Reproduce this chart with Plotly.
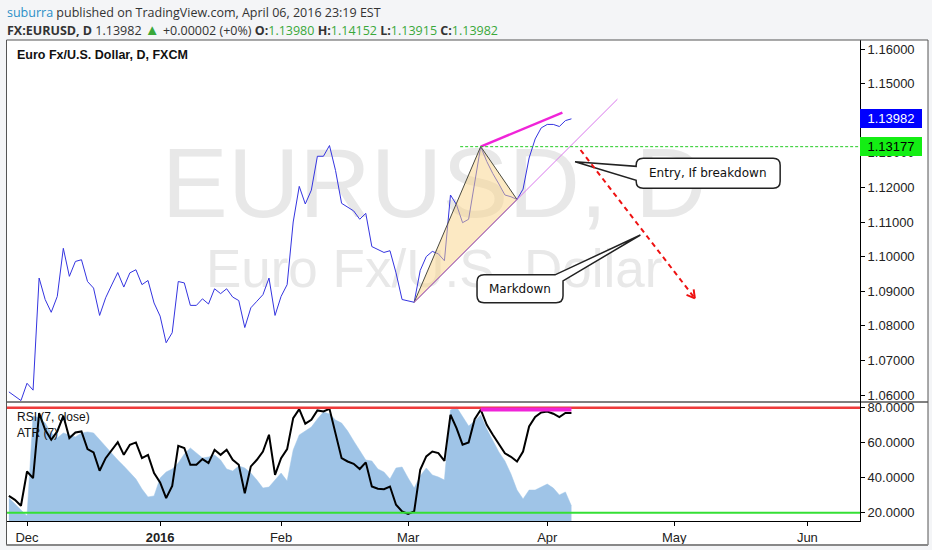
import math
import pandas as pd
import plotly.graph_objects as go

# ---------------- data ----------------
holidays = ["2015-12-25", "2016-01-01"]
dates = [d for d in pd.bdate_range("2015-11-26", "2016-04-07")
         if d.strftime("%Y-%m-%d") not in holidays]
axis_days = [d for d in pd.bdate_range("2015-11-26", "2016-06-30")
             if d.strftime("%Y-%m-%d") not in holidays]

close = [1.0609, 1.0596, 1.0584, 1.0634, 1.0614,
         1.0938, 1.0876, 1.0839, 1.0885, 1.1024,
         1.0943, 1.0986, 1.0991, 1.0928, 1.0909,
         1.0830, 1.0881, 1.0918, 1.0954, 1.0912,
         1.0953, 1.0962, 1.0919, 1.0931, 1.0866,
         1.0828, 1.0751, 1.0780, 1.0928, 1.0924,
         1.0859, 1.0859, 1.0878, 1.0863, 1.0907,
         1.0893, 1.0907, 1.0883, 1.0873, 1.0795,
         1.0852, 1.0871, 1.0890, 1.0938, 1.0830,
         1.0885, 1.0919, 1.1100, 1.1203, 1.1152,
         1.1192, 1.1290, 1.1290, 1.1321, 1.1249,
         1.1154, 1.1142, 1.1132, 1.1108, 1.1125,
         1.1029, 1.1020, 1.1012, 1.1017, 1.0953,
         1.0876, 1.0871, 1.0868, 1.0960, 1.1000,
         1.1015, 1.1008, 1.0988, 1.1178, 1.1150,
         1.1098, 1.1108, 1.1211, 1.1318, 1.1275,
         1.1240, 1.1210, 1.1178, 1.1173, 1.1165,
         1.1195, 1.1285, 1.1340, 1.1372, 1.1382,
         1.1382, 1.1376, 1.1393, 1.13982]

rsi = [29.7, 27.4, 24.0, 43.6, 39.8,
       77.0, 67.4, 61.7, 66.5, 75.4,
       62.7, 65.9, 66.5, 56.4, 54.5,
       44.0, 51.2, 56.0, 60.4, 53.1,
       58.9, 60.2, 51.2, 53.1, 42.7,
       37.3, 28.4, 35.4, 58.3, 57.0,
       47.4, 47.4, 50.7, 48.4, 56.0,
       53.1, 56.0, 50.3, 47.4, 31.2,
       46.5, 50.3, 55.0, 64.6, 41.7,
       51.2, 56.4, 74.1, 79.2, 70.9,
       73.1, 78.5, 77.9, 79.4, 64.6,
       51.2, 49.3, 48.0, 45.0, 48.8,
       35.0, 33.7, 33.5, 35.0, 24.6,
       20.8, 19.4, 20.8, 44.6, 52.2,
       55.0, 54.1, 49.7, 76.0, 68.4,
       58.9, 60.2, 73.5, 78.9, 70.3,
       64.6, 59.5, 54.0, 52.0, 49.3,
       55.0, 69.3, 74.7, 77.3, 77.9,
       76.6, 74.7, 77.0, 77.0]

atr = [0.00584, 0.00536, 0.00480, 0.00440, 0.01238,
       0.01222, 0.01182, 0.01103, 0.01063, 0.01103,
       0.01087, 0.01071, 0.01103, 0.01111, 0.01103,
       0.01047, 0.00991, 0.00935, 0.00887, 0.00839,
       0.00783, 0.00735, 0.00655, 0.00592, 0.00600,
       0.00743, 0.00791, 0.00815, 0.00863, 0.00935,
       0.00983, 0.00943, 0.00903, 0.00911, 0.00927,
       0.00887, 0.00815, 0.00799, 0.00839, 0.00823,
       0.00783, 0.00727, 0.00663, 0.00671, 0.00727,
       0.00783, 0.00719, 0.00967, 0.01087, 0.01118,
       0.01150, 0.01214, 0.01270, 0.01254, 0.01206,
       0.01182, 0.01118, 0.01039, 0.00959, 0.00887,
       0.00879, 0.00815, 0.00791, 0.00735, 0.00823,
       0.00831, 0.00743, 0.00663, 0.00759, 0.00823,
       0.00767, 0.00751, 0.00727, 0.01286, 0.01310,
       0.01238, 0.01158, 0.01198, 0.01246, 0.01134,
       0.01039, 0.00951, 0.00879, 0.00775, 0.00647,
       0.00576, 0.00647, 0.00647, 0.00671, 0.00695,
       0.00663, 0.00608, 0.00632, 0.00520]

month_labels = ["Dec", "<b>2016</b>", "Feb", "Mar", "Apr", "May", "Jun"]
price_ticks = [1.06, 1.07, 1.08, 1.09, 1.10, 1.11, 1.12, 1.13, 1.14, 1.15, 1.16]
rsi_ticks = [20, 40, 60, 80]
rsi_upper, rsi_lower = 80, 20
last_close = 1.13982
level = 1.13177
ohlc = {"O": "1.13980", "H": "1.14152", "L": "1.13915", "C": "1.13982"}

# drawings (bar index, price)
tri_a = (67, 1.0868)
tri_b = (78, 1.1318)
tri_c = (84, 1.1165)
trend_end = (100.6, 1.1455)
top_line_end = (91.5, 1.14159)
level_start = 74.6
arrow_start = (94.5, 1.13081)
arrow_end = (113.4, 1.08795)
rsi_line = (78, 93, 79.0)
entry_tip = (93.6, 1.12743)
entry_box = (115.6, 1.12407)
mark_tip = (104.4, 1.10624)
mark_box = (84.5, 1.09069)
wm_pos1 = (70.3, 1.11860)
wm_pos2 = (70.3, 1.09500)

# ---------------- layout geometry ----------------
W, H = 932, 550
ML, MR, MT, MB = 7, 72, 40, 29
PW = W - ML - MR
PH = H - MT - MB
XR = [-0.31, 140.7]
PR = [1.05798, 1.1626]
RR = [15.3, 83.3]
AR = [0.0040, 0.0135]
D0 = 119 / PH
PHT = PH * (1 - D0)
XSPAN = XR[1] - XR[0]


def x2px(i):
    return ML + (i - XR[0]) / XSPAN * PW


def px2x(x):
    return XR[0] + (x - ML) / PW * XSPAN


def p2py(p):
    return MT + (PR[1] - p) / (PR[1] - PR[0]) * PHT


def py2p(y):
    return PR[1] - (y - MT) / PHT * (PR[1] - PR[0])


def pxp(x):
    return (x - ML) / PW


def pyp(y):
    return (MT + PH - y) / PH


def d(pt):
    return "%.4f,%.6f" % (px2x(pt[0]), py2p(pt[1]))


def callout_path(center, tip, w, h, r, kind):
    cx, cy = x2px(center[0]), p2py(center[1])
    tx, ty = x2px(tip[0]), p2py(tip[1])
    L, R, T, B = cx - w / 2, cx + w / 2, cy - h / 2, cy + h / 2
    s = "M " + d((L + r, T))
    if kind == "left":
        s += " L " + d((R - r, T)) + " Q " + d((R, T)) + " " + d((R, T + r))
        s += " L " + d((R, B - r)) + " Q " + d((R, B)) + " " + d((R - r, B))
        s += " L " + d((L + r, B)) + " Q " + d((L, B)) + " " + d((L, B - r))
        s += " L " + d((L, cy + 7)) + " L " + d((tx, ty)) + " L " + d((L, cy - 7))
        s += " L " + d((L, T + r)) + " Q " + d((L, T)) + " " + d((L + r, T)) + " Z"
    else:
        s += " L " + d((R - 8, T)) + " L " + d((tx, ty)) + " L " + d((R, T + 6))
        s += " L " + d((R, B - r)) + " Q " + d((R, B)) + " " + d((R - r, B))
        s += " L " + d((L + r, B)) + " Q " + d((L, B)) + " " + d((L, B - r))
        s += " L " + d((L, T + r)) + " Q " + d((L, T)) + " " + d((L + r, T)) + " Z"
    return s


bars = list(range(len(dates)))
tickvals = []
seen = set()
for k, day in enumerate(axis_days):
    key = (day.year, day.month)
    if day.month == 11 or key in seen:
        continue
    seen.add(key)
    tickvals.append(k)

fig = go.Figure()

# watermark (drawn below the price line)
fig.add_trace(go.Scatter(x=[wm_pos1[0]], y=[wm_pos1[1]], yaxis="y2", mode="text",
                         text=["EURUSD, D"], textposition="middle center",
                         textfont=dict(family="Liberation Sans", size=99, color="#e8e8e8"),
                         hoverinfo="skip"))
fig.add_trace(go.Scatter(x=[wm_pos2[0]], y=[wm_pos2[1]], yaxis="y2", mode="text",
                         text=["Euro Fx/U.S. Dollar"], textposition="middle center",
                         textfont=dict(family="Liberation Sans", size=53, color="#e8e8e8"),
                         hoverinfo="skip"))

fig.add_trace(go.Scatter(x=bars, y=close, yaxis="y2", mode="lines",
                         line=dict(color="#3434e0", width=1), name="EURUSD"))
fig.add_trace(go.Scatter(x=bars, y=atr, yaxis="y", mode="lines", fill="tozeroy",
                         fillcolor="#9fc4e7", line=dict(color="#9fc4e7", width=0.5),
                         name="ATR (7)"))
fig.add_trace(go.Scatter(x=bars, y=rsi, yaxis="y3", mode="lines",
                         line=dict(color="black", width=2), name="RSI (7, close)"))

shapes = []
# white chart frame background
shapes.append(dict(type="rect", xref="paper", yref="paper", x0=pxp(6.5), x1=pxp(928),
                   y0=pyp(545), y1=pyp(40), fillcolor="white", line=dict(width=0), layer="below"))
# RSI bands
shapes.append(dict(type="line", xref="paper", yref="y3", x0=0, x1=1, y0=rsi_upper, y1=rsi_upper,
                   line=dict(color="#ee3b3b", width=2.5)))
shapes.append(dict(type="line", xref="paper", yref="y3", x0=0, x1=1, y0=rsi_lower, y1=rsi_lower,
                   line=dict(color="#35e035", width=2)))
shapes.append(dict(type="line", xref="x", yref="y3", x0=rsi_line[0], x1=rsi_line[1],
                   y0=rsi_line[2], y1=rsi_line[2], line=dict(color="#f024d8", width=4)))
# triangle pattern
shapes.append(dict(type="path", xref="x", yref="y2",
                   path="M %f,%f L %f,%f L %f,%f Z" % (tri_a + tri_b + tri_c),
                   fillcolor="rgba(250,212,135,0.5)", line=dict(color="#4a4a40", width=1)))
shapes.append(dict(type="line", xref="x", yref="y2", x0=tri_a[0], y0=tri_a[1],
                   x1=trend_end[0], y1=trend_end[1], line=dict(color="#d977ec", width=1)))
shapes.append(dict(type="line", xref="x", yref="y2", x0=tri_b[0], y0=tri_b[1],
                   x1=top_line_end[0], y1=top_line_end[1], line=dict(color="#f024d8", width=2.5)))
shapes.append(dict(type="line", xref="x", yref="y2", x0=level_start, x1=XR[1], y0=level, y1=level,
                   line=dict(color="#22cc22", width=1, dash="3px,2px")))
# callouts
shapes.append(dict(type="path", xref="x", yref="y2",
                   path=callout_path(entry_box, entry_tip, 144, 30, 7, "left"),
                   fillcolor="white", line=dict(color="#222", width=1.5)))
shapes.append(dict(type="path", xref="x", yref="y2",
                   path=callout_path(mark_box, mark_tip, 86, 28, 7, "corner"),
                   fillcolor="white", line=dict(color="#222", width=1.5)))
# red dashed arrow
shapes.append(dict(type="line", xref="x", yref="y2", x0=arrow_start[0], y0=arrow_start[1],
                   x1=arrow_end[0], y1=arrow_end[1],
                   line=dict(color="#ee1111", width=2, dash="5px,4px")))
sx, sy = x2px(arrow_start[0]), p2py(arrow_start[1])
ex, ey = x2px(arrow_end[0]), p2py(arrow_end[1])
ln = math.hypot(ex - sx, ey - sy)
ux, uy = (ex - sx) / ln, (ey - sy) / ln
for ang in (math.radians(30), -math.radians(30)):
    rx = -(ux * math.cos(ang) - uy * math.sin(ang)) * 9
    ry = -(ux * math.sin(ang) + uy * math.cos(ang)) * 9
    shapes.append(dict(type="line", xref="x", yref="y2",
                       x0=arrow_end[0], y0=arrow_end[1],
                       x1=px2x(ex + rx), y1=py2p(ey + ry),
                       line=dict(color="#ee1111", width=2)))
# pane separator and outer frame
shapes.append(dict(type="line", xref="paper", yref="paper", x0=pxp(6.5), x1=pxp(928),
                   y0=D0, y1=D0, line=dict(color="black", width=1)))
shapes.append(dict(type="rect", xref="paper", yref="paper", x0=pxp(6.5), x1=pxp(928),
                   y0=pyp(545), y1=pyp(40), line=dict(color="#555", width=1)))
shapes.append(dict(type="line", xref="paper", yref="paper", x0=pxp(6.5), x1=pxp(928),
                   y0=pyp(545), y1=pyp(545), line=dict(color="#888", width=2)))

green = "#3aa83a"
ohlc_txt = " ".join("<b>%s:</b><span style='color:%s'>%s</span>" % (k, green, v)
                    for k, v in ohlc.items())
header2 = ("<b>FX:EURUSD, D</b> %.5f <span style='color:%s;font-size:15px'>▲</span>"
           " +0.00002 (+0%%) %s") % (last_close, green, ohlc_txt)

annotations = [
    dict(xref="paper", yref="paper", x=pxp(5), y=pyp(12), xanchor="left", yanchor="middle",
         showarrow=False, font=dict(family="Open Sans", size=12.5, color="#333"),
         text="<span style='color:#2a8fc7'>suburra</span> published on TradingView.com, April 06, 2016 23:19 EST"),
    dict(xref="paper", yref="paper", x=pxp(5), y=pyp(29), xanchor="left", yanchor="middle",
         showarrow=False, font=dict(family="Open Sans", size=12.5, color="#333"),
         text=header2),
    dict(xref="paper", yref="paper", x=pxp(15), y=pyp(55), xanchor="left", yanchor="middle",
         showarrow=False, font=dict(family="Liberation Sans", size=12.5, color="#111"),
         text="<b>Euro Fx/U.S. Dollar, D, FXCM</b>"),
    dict(xref="paper", yref="paper", x=pxp(15), y=pyp(417), xanchor="left", yanchor="middle",
         showarrow=False, font=dict(family="Liberation Sans", size=12, color="#111"),
         text="RSI (7, close)"),
    dict(xref="paper", yref="paper", x=pxp(15), y=pyp(433), xanchor="left", yanchor="middle",
         showarrow=False, font=dict(family="Liberation Sans", size=12, color="#111"),
         text="ATR (7)"),
    dict(xref="x", yref="y2", x=entry_box[0], y=entry_box[1], showarrow=False,
         font=dict(family="DejaVu Sans", size=12, color="#111"), text="Entry, If breakdown"),
    dict(xref="x", yref="y2", x=mark_box[0], y=mark_box[1], showarrow=False,
         font=dict(family="DejaVu Sans", size=12, color="#111"), text="Markdown"),
    dict(xref="paper", yref="y2", x=1, y=last_close, xanchor="left", yanchor="middle",
         showarrow=False, text=f"{last_close:.5f}", bgcolor="#0000ff", borderwidth=0,
         borderpad=1, width=60, height=17, align="center",
         font=dict(family="Liberation Sans", size=13, color="white")),
    dict(xref="paper", yref="y2", x=1, y=level, xanchor="left", yanchor="middle",
         showarrow=False, text=f"{level:.5f}", bgcolor="#14ee14", borderwidth=0,
         borderpad=1, width=60, height=17, align="center",
         font=dict(family="Liberation Sans", size=13, color="black")),
]

axis_font = dict(family="Liberation Sans", size=13, color="#222")
fig.update_layout(
    width=W, height=H, margin=dict(l=ML, r=MR, t=MT, b=MB, autoexpand=False),
    paper_bgcolor="#f4f5f7", plot_bgcolor="white", showlegend=False,
    hovermode=False,
    xaxis=dict(range=XR, domain=[0, 1], anchor="y", tickvals=tickvals, ticktext=month_labels,
               ticks="outside", ticklen=4, tickcolor="black", showline=True, linecolor="black",
               showgrid=False, zeroline=False, tickfont=axis_font, automargin=False),
    yaxis=dict(domain=[0, D0], range=AR, visible=False),
    yaxis2=dict(domain=[D0, 1], range=PR, side="right", anchor="x", tickvals=price_ticks,
                tickformat=".5f", ticks="outside", ticklen=4, tickcolor="black",
                showline=True, linecolor="black", showgrid=False, zeroline=False,
                tickfont=axis_font, automargin=False),
    yaxis3=dict(overlaying="y", range=RR, side="right", anchor="x", tickvals=rsi_ticks,
                tickformat=".4f", ticks="outside", ticklen=4, tickcolor="black",
                showline=True, linecolor="black", showgrid=False, zeroline=False,
                tickfont=axis_font, automargin=False),
    shapes=shapes, annotations=annotations,
)

fig.write_html("out.html", config={"displayModeBar": False},
               post_script="document.body.style.margin='0px';document.body.style.overflow='hidden';")
